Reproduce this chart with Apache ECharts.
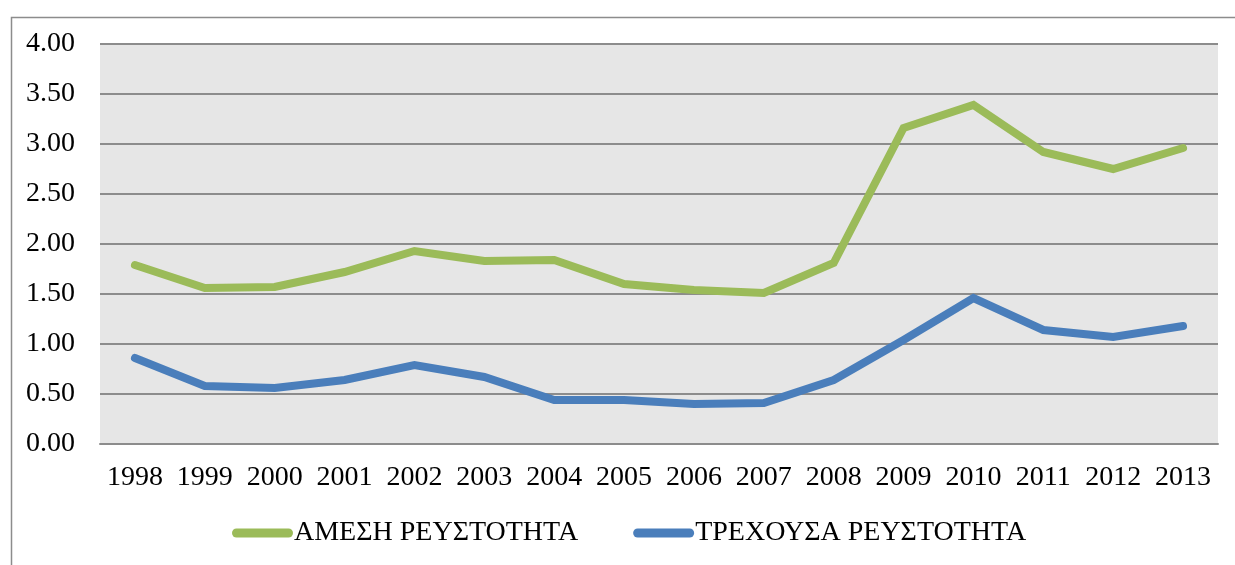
<!DOCTYPE html>
<html>
<head>
<meta charset="utf-8">
<script src="https://cdn.jsdelivr.net/npm/echarts@6/dist/echarts.min.js"></script>
<style>
html,body{margin:0;padding:0;background:#fff;}
#c{width:1235px;height:565px;}
</style>
</head>
<body>
<div id="c"></div>
<script>
const years = ['1998','1999','2000','2001','2002','2003','2004','2005','2006','2007','2008','2009','2010','2011','2012','2013'];
const ameshValues = [1.79,1.56,1.57,1.72,1.93,1.83,1.84,1.60,1.54,1.51,1.81,3.16,3.39,2.92,2.75,2.96];
const trexousaValues = [0.86,0.58,0.56,0.64,0.79,0.67,0.44,0.44,0.40,0.41,0.64,1.04,1.46,1.14,1.07,1.18];
const seriesNames = ['ΑΜΕΣΗ ΡΕΥΣΤΟΤΗΤΑ','ΤΡΕΧΟΥΣΑ ΡΕΥΣΤΟΤΗΤΑ'];

const chart = echarts.init(document.getElementById('c'), null, {renderer:'canvas'});
const font = '"Liberation Serif","Times New Roman",serif';
const pill = 'path://M4.5,0 H56.5 A4.5,4.5 0 0 1 56.5,9 H4.5 A4.5,4.5 0 0 1 4.5,0 Z';
chart.setOption({
  animation:false,
  backgroundColor:'#ffffff',
  graphic:[{
    type:'rect', left:9, top:15,
    shape:{width:1240, height:560},
    style:{fill:'none', stroke:'#8c8c8c', lineWidth:1.5}
  }],
  grid:{left:100, right:17, top:44, bottom:121, show:true, backgroundColor:'#e6e6e6', borderWidth:0},
  legend:{
    left:232, top:519, padding:0,
    itemWidth:61, itemHeight:9, itemGap:55,
    textStyle:{fontFamily:font, fontSize:28, color:'#000', padding:[0,0,0,-4]},
    data:[{name:seriesNames[0], icon:pill},{name:seriesNames[1], icon:pill}]
  },
  xAxis:{
    type:'category', data:years, boundaryGap:true,
    axisLine:{show:true, lineStyle:{color:'#8c8c8c', width:2}},
    axisTick:{show:false},
    axisLabel:{fontFamily:font, fontSize:28, color:'#000', margin:20, interval:0, hideOverlap:false}
  },
  yAxis:{
    type:'value', min:0, max:4, interval:0.5,
    axisLine:{show:false}, axisTick:{show:false},
    axisLabel:{fontFamily:font, fontSize:28, color:'#000', margin:25, formatter:v=>v.toFixed(2)},
    splitLine:{show:true, lineStyle:{color:'#8c8c8c', width:2}}
  },
  series:[
    {name:seriesNames[0], type:'line', data:ameshValues, symbol:'none', color:'#9bbb59',
     lineStyle:{width:8, color:'#9bbb59', cap:'round', join:'miter'}},
    {name:seriesNames[1], type:'line', data:trexousaValues, symbol:'none', color:'#4a7ebb',
     lineStyle:{width:8, color:'#4a7ebb', cap:'round', join:'miter'}}
  ]
});
</script>
</body>
</html>
